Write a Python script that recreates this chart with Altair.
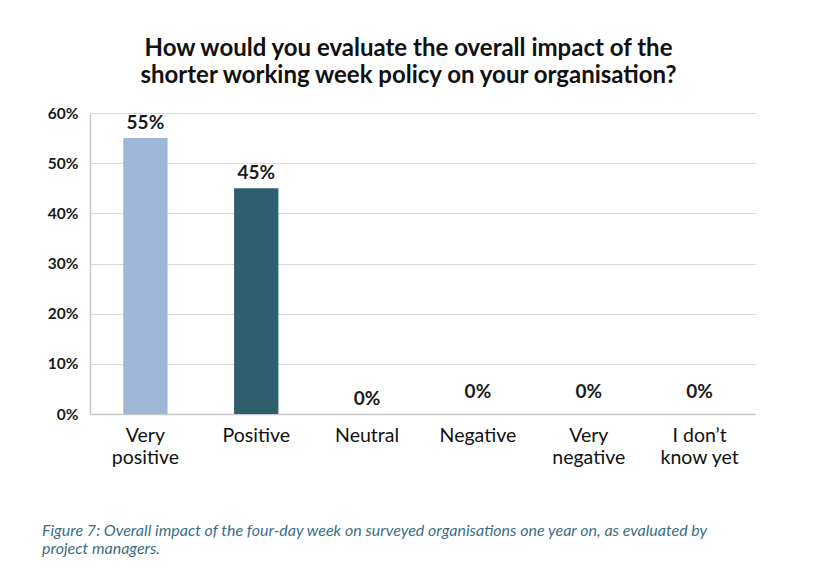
import altair as alt
import pandas as pd

categories = ["Very positive", "Positive", "Neutral", "Negative", "Very negative", "I don't know yet"]
values = [55, 45, 0, 0, 0, 0]
bar_colors = ["#9fb7d6", "#2d5f6f", "#2d5f6f", "#2d5f6f", "#2d5f6f", "#2d5f6f"]
label_lines = {
    "Very positive": ["Very", "positive"],
    "Positive": ["Positive"],
    "Neutral": ["Neutral"],
    "Negative": ["Negative"],
    "Very negative": ["Very", "negative"],
    "I don't know yet": ["I don\u2019t", "know yet"],
}
title_lines = ["How would you evaluate the overall impact of the",
               "shorter working week policy on your organisation?"]
footnote_lines = ["Figure 7: Overall impact of the four-day week on surveyed organisations one year on, as evaluated by",
                  "project managers."]

df = pd.DataFrame({"category": categories, "value": values, "color": bar_colors})

expr = ""
for k, v in label_lines.items():
    arr = "[" + ",".join("'" + s.replace("'", "\\'") + "'" for s in v) + "]"
    kk = k.replace("'", "\\'")
    expr += f"datum.value == '{kk}' ? {arr} : "
expr += "datum.value"

FONT = "Lato"

x_enc = alt.X("category:N", sort=categories,
              scale=alt.Scale(paddingInner=0.6, paddingOuter=0.3),
              axis=alt.Axis(title=None, labelAngle=0, labelExpr=expr, labelFontSize=19.5,
                            labelColor="#111111", labelFont=FONT, labelPadding=12,
                            labelLineHeight=22, ticks=False, domainColor="#c8c8c8",
                            domainWidth=1.5, grid=False))
y_enc = alt.Y("value:Q", scale=alt.Scale(domain=[0, 60]),
              axis=alt.Axis(title=None, values=[0, 10, 20, 30, 40, 50, 60],
                            labelExpr="datum.value + '%'", labelFontSize=15.5,
                            labelFont=FONT, labelFontWeight="bold", labelColor="#1a1a1a",
                            labelPadding=12, ticks=False, gridColor="#d9d9d9",
                            domainColor="#c8c8c8", domainWidth=1.5))

base = alt.Chart(df)

bars = base.mark_bar().encode(
    x=x_enc, y=y_enc,
    color=alt.Color("color:N", scale=None),
)

low_cats = ["Very positive", "Positive", "Neutral"]
text_low = base.transform_filter(
    alt.FieldOneOfPredicate(field="category", oneOf=low_cats)
).transform_calculate(lbl="datum.value + '%'").mark_text(
    baseline="bottom", dy=-5, fontSize=19, font=FONT, fontWeight="bold", color="#1a1a1a"
).encode(x=alt.X("category:N", sort=categories), y=alt.Y("value:Q"), text="lbl:N")

text_high = base.transform_filter(
    {"not": alt.FieldOneOfPredicate(field="category", oneOf=low_cats).to_dict()}
).transform_calculate(lbl="datum.value + '%'").mark_text(
    baseline="bottom", dy=-12, fontSize=19, font=FONT, fontWeight="bold", color="#1a1a1a"
).encode(x=alt.X("category:N", sort=categories), y=alt.Y("value:Q"), text="lbl:N")

foot = alt.Chart(pd.DataFrame({"t": [footnote_lines]})).mark_text(
    align="left", baseline="middle", fontSize=16, font=FONT, fontStyle="italic",
    color="#3a6f86", lineHeight=18
).encode(x=alt.value(-48), y=alt.value(418), text="t")

chart = alt.layer(bars, text_low, text_high, foot).properties(
    width=665, height=301,
    autosize=alt.AutoSizeParams(type="none"),
    padding={"left": 82, "top": 105, "right": 74, "bottom": 150},
    title=alt.Title(title_lines, fontSize=24, font=FONT, fontWeight="bold", color="#111111",
                    anchor="middle", dx=-14, offset=18, lineHeight=27),
).configure(background="white").configure_view(strokeWidth=0, stroke=None)

chart.save("out.html", embed_options={"renderer": "svg", "actions": False})
